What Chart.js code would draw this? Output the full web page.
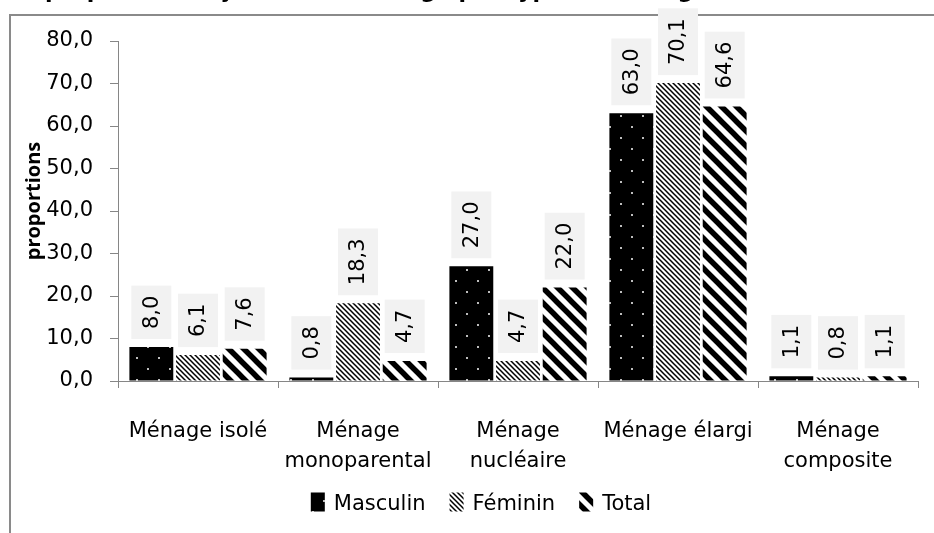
<!DOCTYPE html>
<html>
<head>
<meta charset="utf-8">
<script src="https://cdn.jsdelivr.net/npm/chart.js@4.4.1/dist/chart.umd.min.js"></script>
<style>
    html, body { margin: 0; padding: 0; background: #fff; }
    #wrap { width: 934px; height: 533px; position: relative; }
</style>
</head>
<body>
<div id="wrap"><canvas id="chart"></canvas></div>
<script>
// Data
const categories = [['Ménage isolé'], ['Ménage', 'monoparental'], ['Ménage', 'nucléaire'], ['Ménage élargi'], ['Ménage', 'composite']];
const seriesNames = ['Masculin', 'Féminin', 'Total'];
const masculin = [8.0, 0.8, 27.0, 63.0, 1.1];
const feminin = [6.1, 18.3, 4.7, 70.1, 0.8];
const total = [7.6, 4.7, 22.0, 64.6, 1.1];
const yTicks = [0, 10, 20, 30, 40, 50, 60, 70, 80];
const yTitle = 'proportions';
const chartTitle = 'proportion de jeunes du ménage par type de ménage';

const FONT = '"DejaVu Sans", sans-serif';
const AXIS_GREY = '#868686';

const fmt = v => v.toFixed(1).replace('.', ',');

document.addEventListener('DOMContentLoaded', function() {
    const canvas = document.getElementById('chart');
    const ctx = canvas.getContext('2d');

    // Fill patterns
    function makeTile(w, h, draw) {
        const c = document.createElement('canvas');
        c.width = w; c.height = h;
        draw(c.getContext('2d'), w, h);
        return ctx.createPattern(c, 'repeat');
    }
    const dots = makeTile(22, 22, (g, w, h) => {
        g.fillStyle = '#000';
        g.fillRect(0, 0, w, h);
        g.fillStyle = '#bdbdbd';
        g.fillRect(4, 5, 2, 2);
        g.fillRect(15, 16, 2, 2);
    });
    function stripes(size, width) {
        return makeTile(size, size, (g, w, h) => {
            g.fillStyle = '#fff';
            g.fillRect(0, 0, w, h);
            g.strokeStyle = '#000';
            g.lineWidth = width;
            g.beginPath();
            [-size, 0, size].forEach(k => {
                g.moveTo(k - size, -size);
                g.lineTo(k + 2 * size, 2 * size);
            });
            g.stroke();
        });
    }
    const fineStripes = stripes(5, 1.5);
    const wideStripes = stripes(15, 5.5);

    // Frame, clipped title and y title
    const decorations = {
        id: 'decorations',
        beforeDraw(chart) {
            const c = chart.ctx;
            c.save();
            c.fillStyle = '#fff';
            c.fillRect(0, 0, chart.width, chart.height);
            c.fillStyle = '#000';
            c.font = 'bold 22px ' + FONT;
            c.textBaseline = 'bottom';
            c.fillText(chartTitle, 45, 3);
            c.strokeStyle = '#8a8a8a';
            c.lineWidth = 2;
            c.beginPath();
            c.moveTo(10, chart.height);
            c.lineTo(10, 15);
            c.lineTo(chart.width, 15);
            c.stroke();
            c.translate(34, 201);
            c.rotate(-Math.PI / 2);
            c.font = 'bold 20px "Open Sans", sans-serif';
            c.textAlign = 'center';
            c.textBaseline = 'middle';
            c.fillText(yTitle, 0, 0);
            c.restore();
        }
    };

    // Value labels in light grey boxes, rotated
    const valueLabels = {
        id: 'valueLabels',
        afterDatasetsDraw(chart) {
            const c = chart.ctx;
            c.save();
            c.font = '21px ' + FONT;
            chart.data.datasets.forEach((ds, i) => {
                chart.getDatasetMeta(i).data.forEach((bar, j) => {
                    const txt = fmt(ds.data[j]);
                    const bh = c.measureText(txt).width + 20;
                    const bw = 40;
                    const bottom = bar.y - 8;
                    c.fillStyle = '#f2f2f2';
                    c.fillRect(bar.x - bw / 2, bottom - bh, bw, bh);
                    c.save();
                    c.translate(bar.x + 1, bottom - bh / 2);
                    c.rotate(-Math.PI / 2);
                    c.fillStyle = '#000';
                    c.textAlign = 'center';
                    c.textBaseline = 'middle';
                    c.fillText(txt, 0, 0);
                    c.restore();
                });
            });
            c.restore();
        }
    };

    // Legend row under the axis, built from the datasets
    const legendRow = {
        id: 'legendRow',
        afterDraw(chart) {
            const c = chart.ctx;
            c.save();
            c.font = '21px ' + FONT;
            const items = chart.data.datasets.map(ds => ({ text: ds.label, fill: ds.backgroundColor, w: c.measureText(ds.label).width }));
            const boxW = 14, boxH = 19, gapText = 9, gapItem = 24;
            const totalW = items.reduce((s, it) => s + boxW + gapText + it.w, 0) + gapItem * (items.length - 1);
            let x = 481 - totalW / 2;
            const y = 505;
            items.forEach(it => {
                c.fillStyle = it.fill;
                c.fillRect(x, y - boxH / 2 - 3, boxW, boxH);
                x += boxW + gapText;
                c.fillStyle = '#000';
                c.textBaseline = 'middle';
                c.fillText(it.text, x, y);
                x += it.w + gapItem;
            });
            c.restore();
        }
    };

    new Chart(ctx, {
        type: 'bar',
        data: {
            labels: categories,
            datasets: [
                { label: seriesNames[0], data: masculin, backgroundColor: dots, borderWidth: 0 },
                { label: seriesNames[1], data: feminin, backgroundColor: fineStripes, borderWidth: 0 },
                { label: seriesNames[2], data: total, backgroundColor: wideStripes, borderWidth: 0 }
            ]
        },
        options: {
            responsive: true,
            maintainAspectRatio: false,
            animation: false,
            categoryPercentage: 0.875,
            barPercentage: 0.94,
            layout: { padding: { left: 10, top: 41, right: 16, bottom: 52 } },
            plugins: {
                legend: { display: false },
                tooltip: { enabled: false }
            },
            scales: {
                x: {
                    border: { color: AXIS_GREY, width: 1 },
                    grid: { drawOnChartArea: false, drawTicks: true, tickLength: 7, color: AXIS_GREY, offset: true },
                    ticks: { color: '#000', padding: 28, maxRotation: 0, font: { family: FONT, size: 21, lineHeight: 1.45 } },
                    afterFit: scale => { scale.height = 100; }
                },
                y: {
                    min: 0,
                    max: 80,
                    border: { color: AXIS_GREY, width: 1 },
                    grid: { drawOnChartArea: false, drawTicks: true, tickLength: 8, color: AXIS_GREY },
                    afterBuildTicks: scale => { scale.ticks = yTicks.map(v => ({ value: v })); },
                    ticks: { color: '#000', padding: 17, callback: v => fmt(v), font: { family: FONT, size: 21 } },
                    afterFit: scale => { scale.width = 108; }
                }
            }
        },
        plugins: [decorations, valueLabels, legendRow]
    });
});
</script>
</body>
</html>
